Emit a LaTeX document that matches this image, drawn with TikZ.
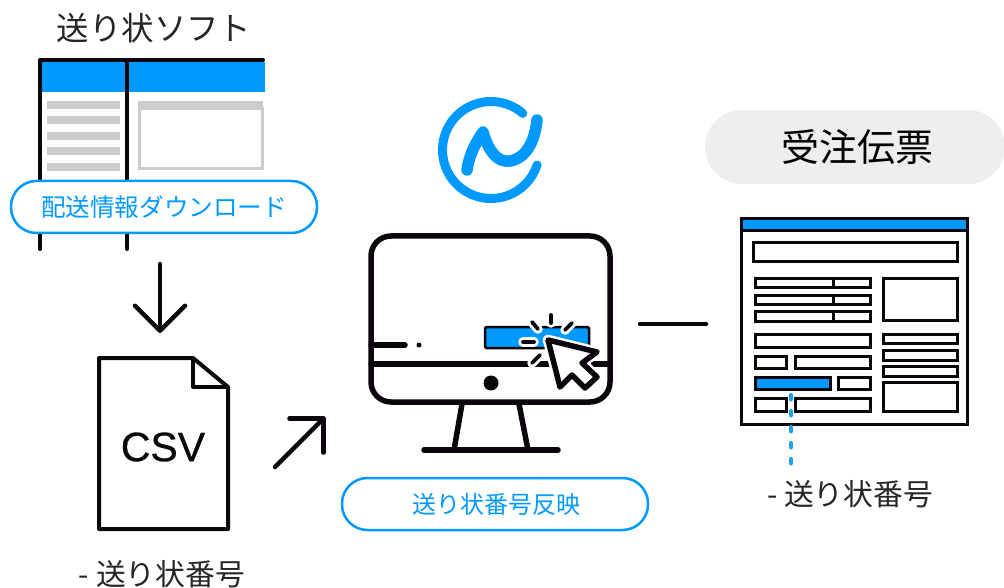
\documentclass[tikz,border=0pt]{standalone}
\usepackage{fontspec}
\setmainfont{Noto Sans CJK JP}
\newfontfamily\latinfont[FakeBold=0.7]{Liberation Sans}
\usepackage{xcolor}
\usetikzlibrary{arrows.meta}
\definecolor{appblue}{HTML}{0099FF}
\definecolor{dashblue}{HTML}{1AA3E8}
\definecolor{barblack}{HTML}{0A060C}
\definecolor{bargray}{HTML}{CCCCCC}
\definecolor{pillgray}{HTML}{EEEEEE}
\tikzset{
    caption-text/.style = {text=black!85, inner sep=0pt},
    blue-pill/.style = {draw=appblue, fill=white, line width=2.5pt, rectangle, rounded corners=25.5pt, minimum height=52pt, text=appblue, inner sep=0pt},
    gray-pill/.style = {fill=pillgray, rectangle, rounded corners=37pt, minimum width=300pt, minimum height=74pt, inner sep=0pt},
    heavy-line/.style = {draw=barblack, line width=4.5pt, line cap=round},
    monitor-line/.style = {draw=barblack, line width=5.5pt, line cap=round, line join=round},
    form-box/.style = {draw=barblack, line width=3pt, fill=white},
    click-ray/.style = {draw=barblack, line width=3.8pt, line cap=round},
    click-halo/.style = {draw=white, line width=9.5pt, line cap=round},
}
\begin{document}
\begin{tikzpicture}[x=1pt,y=-1pt]
\useasboundingbox (0,0) rectangle (1004,588);

% invoice software window
\node [caption-text, font=\fontsize{32.4}{33}\selectfont] (soft-title) at (154,28) {送り状ソフト};
\fill[appblue] (41,62) rectangle (265,92);
\draw[barblack, line width=4pt, line cap=round, line join=round] (40,249) -- (40,60) -- (263,60);
\draw[barblack, line width=4pt, line cap=round] (127,60) -- (127,249);
\foreach \y in {101,116,132,147,163}
    \fill[bargray] (47,\y) rectangle (120,\y+8);
\draw[bargray, line width=3pt] (139,109) rectangle (262,169);
\fill[bargray] (138,101) rectangle (263,110);
\node [blue-pill, minimum width=306pt, font=\fontsize{24.6}{25}\selectfont] (download) at (164,207) {配送情報ダウンロード};

% csv file
\draw[barblack, line width=4pt, line join=round, fill=white] (99,358) -- (193,358) -- (228,387) -- (228,529) -- (99,529) -- cycle;
\draw[barblack, line width=4pt, line join=round] (193,358) -- (193,387) -- (228,387);
\node [inner sep=0pt, font=\latinfont\fontsize{41}{41}\selectfont, text=barblack] (csv) at (163,447) {CSV};
\node [caption-text, font=\fontsize{29.8}{30}\selectfont] (csv-label) at (162,574) {- 送り状番号};

% arrows
\coordinate (down-start) at (160,264);
\coordinate (down-end) at (160,333);
\coordinate (up-start) at (275,467);
\coordinate (up-end) at (325,417);
\coordinate (line-start) at (640,324);
\coordinate (line-end) at (706,324);
\draw[heavy-line, -{Straight Barb[length=25pt,width=50pt,line width=4.5pt,round]}] (down-start) -- (down-end);
\draw[heavy-line, -{Straight Barb[length=24pt,width=48pt,line width=4.5pt,round]}] (up-start) -- (up-end);
\draw[heavy-line] (line-start) -- (line-end);

% logo
\draw[appblue, line width=9pt, line cap=round] (522.8,113.4) arc[start angle=49, end angle=342, radius=48.5pt];
\draw[appblue, line width=11.5pt, line cap=round, line join=round] (467,170) .. controls (469,155) and (476,142) .. (483,132) .. controls (488,150) and (497,163) .. (510,161) .. controls (527,158) and (535,140) .. (537,120);

% monitor
\draw[monitor-line] (371,236) [rounded corners=20pt] -- (610,236) -- (610,402) -- (371,402) -- cycle;
\draw[monitor-line] (371,364) -- (610,364);
\draw[monitor-line, line cap=round] (371,345) -- (405,345);
\fill[barblack] (419,345) circle (2.5pt);
\fill[barblack] (491,383) circle (7.5pt);
\draw[monitor-line] (462,404) -- (454,450);
\draw[monitor-line] (519,404) -- (528,450);
\draw[monitor-line] (424,450) -- (558,450);
\draw[draw=barblack, fill=appblue, line width=2.5pt, rounded corners=1.5pt] (485,327) rectangle (589,348);
\foreach \xa/\ya/\xb/\yb in {551/315/551/323, 532/322/538/329, 572/323/565/330, 523/342/534/342, 540/355/532/363}
{
    \draw[click-halo] (\xa,\ya) -- (\xb,\yb);
    \draw[click-ray] (\xa,\ya) -- (\xb,\yb);
}
\draw[white, line width=10.5pt, line join=round] (548,340) -- (597,352) -- (582,363) -- (597,377) -- (585,388) -- (572,375) -- (560,387) -- cycle;
\draw[monitor-line, fill=white] (548,340) -- (597,352) -- (582,363) -- (597,377) -- (585,388) -- (572,375) -- (560,387) -- cycle;
\node [blue-pill, minimum width=306pt, font=\fontsize{24}{25}\selectfont] (reflect) at (495,504) {\hspace{2pt}送り状番号反映};

% order slip
\node [gray-pill] (slip-title) at (855,147) {};
\node [inner sep=0pt, text=black, font=\fontsize{38}{38}\selectfont] (slip-text) at (857,147) {受注伝票};
\draw[form-box] (741,219) rectangle (967,424);
\draw[draw=barblack, fill=appblue, line width=3pt] (741,219) rectangle (967,231);
\foreach \xa/\ya/\xb/\yb in {
    753/243/957/261, 755/278/870/287, 755/295/870/304, 755/311/870/321,
    883/278/957/320, 755/334/870/347, 755/356/786/368, 795/356/870/368,
    838/377/870/389, 755/398/786/411, 795/398/870/411,
    883/334/957/343, 883/350/957/360, 883/366/957/376, 883/382/957/411}
    \draw[form-box] (\xa,\ya) rectangle (\xb,\yb);
\draw[form-box, fill=appblue] (755,377) rectangle (830,389);
\draw[barblack, line width=3pt] (833,278) -- (833,287) (833,295) -- (833,304) (833,311) -- (833,321);
\coordinate (number-top) at (790.7,395);
\coordinate (number-end) at (790.7,464);
\draw[dashblue, line width=4pt, line cap=round, dash pattern=on 4.5pt off 11.5pt] (number-top) -- (number-end);
\node [caption-text, font=\fontsize{29.8}{30}\selectfont] (slip-label) at (850,494) {- 送り状番号};
\end{tikzpicture}
\end{document}
